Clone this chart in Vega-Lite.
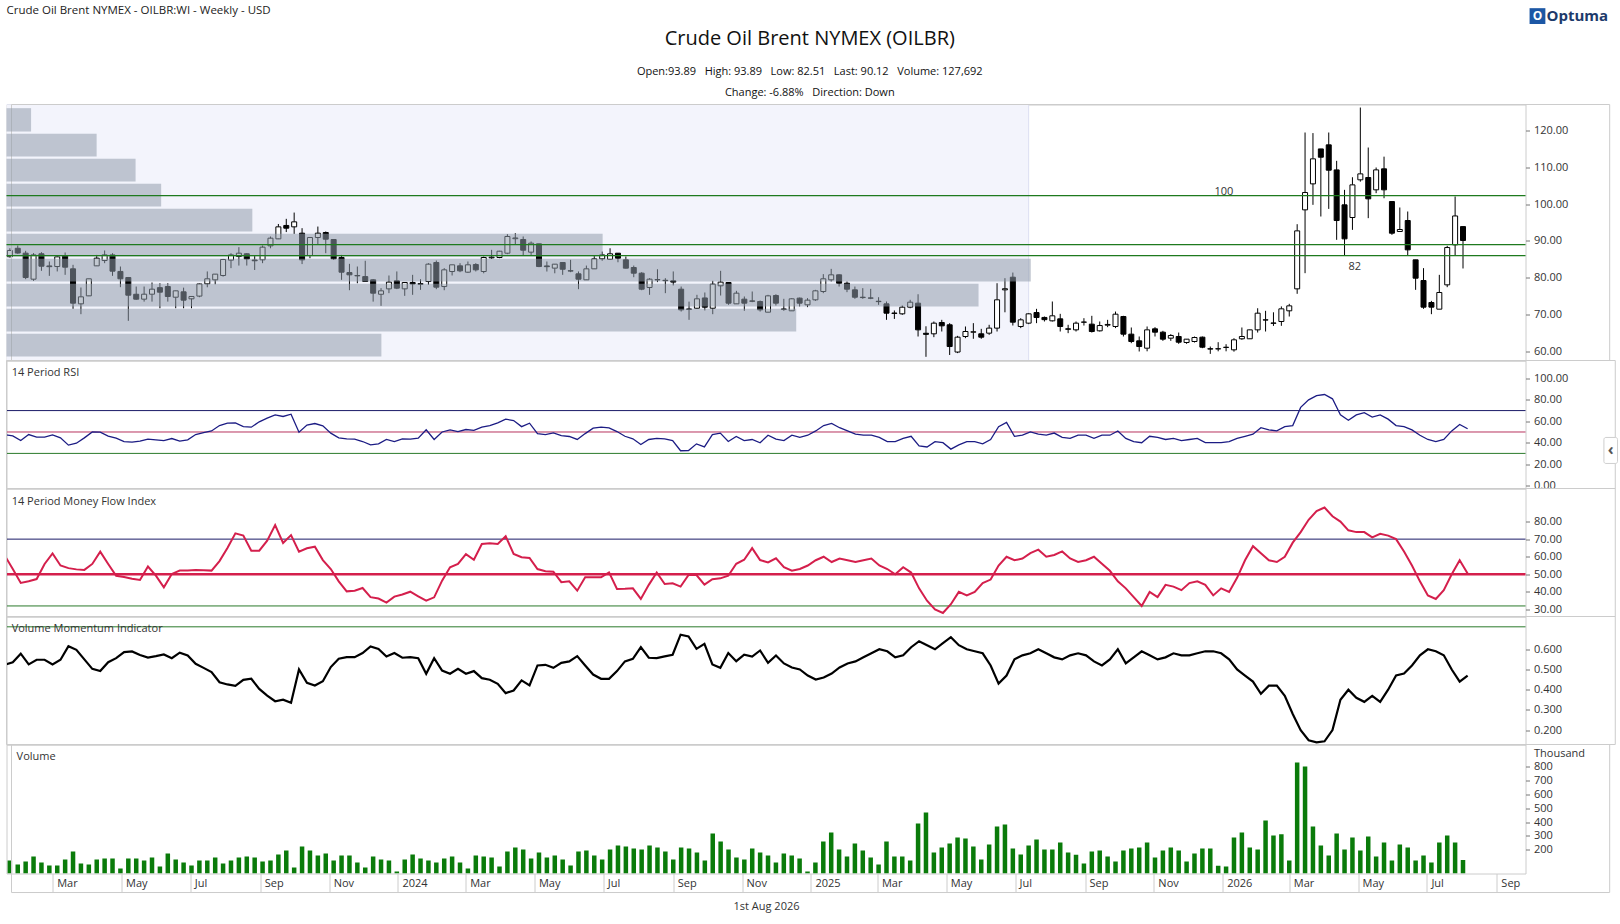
{
  "$schema": "https://vega.github.io/schema/vega-lite/v6.json",
  "background": "white",
  "padding": {"left": 4.5, "top": 3.5, "right": 0, "bottom": 2},
  "bounds": "flush",
  "config": {
    "font": "Open Sans",
    "view": {"stroke": "#cccccc", "strokeWidth": 1},
    "axis": {"grid": false, "domain": false, "labelFont": "Open Sans", "labelFontSize": 11, "labelColor": "#333333", "tickColor": "#777777", "titleFont": "Open Sans", "titleFontWeight": "normal", "titleColor": "#333333"},
    "text": {"font": "Open Sans", "fontSize": 11, "color": "#333333"}
  },
  "spacing": 0,
  "datasets": {
    "bars": [
      {"date":"2023-01-22","open":85.7,"high":88.0,"low":85.5,"close":87.4,"volume":123,"rsi":47.5,"mfi":60.6,"vmi":0.523},
      {"date":"2023-01-29","open":88.0,"high":88.75,"low":86.5,"close":86.7,"volume":94,"rsi":46.4,"mfi":53.0,"vmi":0.536},
      {"date":"2023-02-05","open":86.67,"high":87.3,"low":79.6,"close":80.05,"volume":116,"rsi":42.0,"mfi":45.1,"vmi":0.578},
      {"date":"2023-02-12","open":79.6,"high":86.7,"low":79.15,"close":86.2,"volume":152,"rsi":47.6,"mfi":46.0,"vmi":0.525},
      {"date":"2023-02-19","open":86.5,"high":86.94,"low":81.87,"close":83.13,"volume":109,"rsi":45.2,"mfi":47.3,"vmi":0.548},
      {"date":"2023-02-26","open":83.2,"high":84.4,"low":80.5,"close":83.0,"volume":87,"rsi":45.2,"mfi":55.9,"vmi":0.548},
      {"date":"2023-03-05","open":83.04,"high":86.0,"low":81.7,"close":85.67,"volume":87,"rsi":47.3,"mfi":61.9,"vmi":0.525},
      {"date":"2023-03-12","open":85.94,"high":86.85,"low":80.78,"close":82.86,"volume":130,"rsi":44.5,"mfi":55.0,"vmi":0.548},
      {"date":"2023-03-19","open":82.41,"high":83.5,"low":71.54,"close":73.08,"volume":188,"rsi":37.7,"mfi":53.5,"vmi":0.615},
      {"date":"2023-03-26","open":72.9,"high":77.34,"low":70.09,"close":74.8,"volume":102,"rsi":39.5,"mfi":52.8,"vmi":0.597},
      {"date":"2023-04-02","open":75.07,"high":79.7,"low":75.0,"close":79.7,"volume":94,"rsi":44.5,"mfi":52.5,"vmi":0.550},
      {"date":"2023-04-09","open":83.22,"high":86.2,"low":83.2,"close":85.31,"volume":130,"rsi":50.0,"mfi":55.9,"vmi":0.503},
      {"date":"2023-04-16","open":84.67,"high":87.4,"low":83.95,"close":86.2,"volume":138,"rsi":49.8,"mfi":62.9,"vmi":0.492},
      {"date":"2023-04-23","open":86.2,"high":86.66,"low":80.5,"close":81.78,"volume":138,"rsi":46.1,"mfi":55.9,"vmi":0.536},
      {"date":"2023-04-30","open":81.7,"high":83.04,"low":77.43,"close":79.7,"volume":66,"rsi":44.2,"mfi":49.2,"vmi":0.556},
      {"date":"2023-05-07","open":80.05,"high":80.2,"low":68.28,"close":75.25,"volume":138,"rsi":41.0,"mfi":48.5,"vmi":0.586},
      {"date":"2023-05-14","open":75.5,"high":77.6,"low":74.0,"close":74.17,"volume":138,"rsi":40.5,"mfi":47.5,"vmi":0.589},
      {"date":"2023-05-21","open":74.17,"high":77.6,"low":73.5,"close":75.52,"volume":123,"rsi":41.5,"mfi":46.8,"vmi":0.572},
      {"date":"2023-05-28","open":75.52,"high":78.7,"low":73.5,"close":76.88,"volume":145,"rsi":43.3,"mfi":54.4,"vmi":0.559},
      {"date":"2023-06-04","open":77.3,"high":78.5,"low":71.7,"close":76.07,"volume":80,"rsi":42.7,"mfi":49.2,"vmi":0.566},
      {"date":"2023-06-11","open":77.6,"high":78.5,"low":73.5,"close":74.9,"volume":174,"rsi":42.0,"mfi":42.6,"vmi":0.574},
      {"date":"2023-06-18","open":74.7,"high":76.5,"low":71.7,"close":76.43,"volume":130,"rsi":43.9,"mfi":50.2,"vmi":0.556},
      {"date":"2023-06-25","open":76.16,"high":77.3,"low":71.7,"close":73.9,"volume":109,"rsi":41.4,"mfi":52.1,"vmi":0.583},
      {"date":"2023-07-02","open":74.26,"high":75.0,"low":71.7,"close":74.9,"volume":87,"rsi":42.7,"mfi":52.1,"vmi":0.569},
      {"date":"2023-07-09","open":75.0,"high":78.4,"low":74.7,"close":78.3,"volume":123,"rsi":47.6,"mfi":52.5,"vmi":0.528},
      {"date":"2023-07-16","open":78.33,"high":81.7,"low":77.4,"close":79.7,"volume":123,"rsi":49.5,"mfi":52.3,"vmi":0.508},
      {"date":"2023-07-23","open":79.42,"high":81.0,"low":78.2,"close":80.97,"volume":145,"rsi":51.0,"mfi":52.1,"vmi":0.487},
      {"date":"2023-07-30","open":80.6,"high":85.1,"low":80.3,"close":84.95,"volume":102,"rsi":56.0,"mfi":57.5,"vmi":0.437},
      {"date":"2023-08-06","open":84.77,"high":86.66,"low":82.6,"close":86.2,"volume":123,"rsi":58.2,"mfi":65.0,"vmi":0.426},
      {"date":"2023-08-13","open":85.76,"high":88.3,"low":83.3,"close":86.66,"volume":145,"rsi":58.5,"mfi":73.3,"vmi":0.419},
      {"date":"2023-08-20","open":86.5,"high":86.66,"low":83.3,"close":85.1,"volume":152,"rsi":55.1,"mfi":72.0,"vmi":0.449},
      {"date":"2023-08-27","open":84.8,"high":86.0,"low":82.1,"close":84.6,"volume":145,"rsi":54.5,"mfi":63.4,"vmi":0.454},
      {"date":"2023-09-03","open":84.85,"high":88.75,"low":83.95,"close":88.3,"volume":116,"rsi":59.5,"mfi":63.4,"vmi":0.404},
      {"date":"2023-09-10","open":88.66,"high":91.2,"low":88.0,"close":90.74,"volume":123,"rsi":62.9,"mfi":69.1,"vmi":0.371},
      {"date":"2023-09-17","open":90.56,"high":94.6,"low":90.5,"close":93.82,"volume":166,"rsi":66.0,"mfi":78.0,"vmi":0.343},
      {"date":"2023-09-24","open":94.2,"high":96.0,"low":92.4,"close":93.46,"volume":195,"rsi":64.5,"mfi":67.8,"vmi":0.351},
      {"date":"2023-10-01","open":93.82,"high":97.7,"low":91.9,"close":95.18,"volume":73,"rsi":66.6,"mfi":72.3,"vmi":0.335},
      {"date":"2023-10-08","open":92.1,"high":93.46,"low":83.7,"close":84.85,"volume":224,"rsi":49.8,"mfi":62.9,"vmi":0.500},
      {"date":"2023-10-15","open":86.03,"high":90.95,"low":85.3,"close":90.92,"volume":195,"rsi":56.5,"mfi":64.8,"vmi":0.434},
      {"date":"2023-10-22","open":90.92,"high":93.9,"low":89.1,"close":92.1,"volume":159,"rsi":57.9,"mfi":65.7,"vmi":0.421},
      {"date":"2023-10-29","open":92.28,"high":92.56,"low":86.66,"close":90.47,"volume":174,"rsi":55.7,"mfi":58.1,"vmi":0.442},
      {"date":"2023-11-05","open":90.38,"high":90.4,"low":84.85,"close":85.13,"volume":123,"rsi":48.9,"mfi":53.0,"vmi":0.512},
      {"date":"2023-11-12","open":85.5,"high":86.2,"low":79.42,"close":81.5,"volume":159,"rsi":44.5,"mfi":46.0,"vmi":0.553},
      {"date":"2023-11-19","open":81.4,"high":83.77,"low":76.6,"close":80.78,"volume":159,"rsi":43.6,"mfi":40.3,"vmi":0.561},
      {"date":"2023-11-26","open":80.6,"high":83.04,"low":78.5,"close":80.5,"volume":109,"rsi":43.3,"mfi":40.7,"vmi":0.561},
      {"date":"2023-12-03","open":80.3,"high":84.6,"low":78.9,"close":78.97,"volume":73,"rsi":41.1,"mfi":42.2,"vmi":0.581},
      {"date":"2023-12-10","open":79.42,"high":79.6,"low":73.5,"close":75.8,"volume":152,"rsi":38.0,"mfi":37.0,"vmi":0.614},
      {"date":"2023-12-17","open":75.5,"high":77.16,"low":72.35,"close":76.43,"volume":130,"rsi":38.9,"mfi":36.2,"vmi":0.602},
      {"date":"2023-12-24","open":76.97,"high":80.6,"low":75.8,"close":78.8,"volume":123,"rsi":43.0,"mfi":33.9,"vmi":0.564},
      {"date":"2023-12-31","open":79.15,"high":81.7,"low":76.9,"close":77.16,"volume":44,"rsi":41.1,"mfi":37.3,"vmi":0.581},
      {"date":"2024-01-07","open":76.97,"high":78.8,"low":75.07,"close":78.7,"volume":130,"rsi":43.6,"mfi":38.5,"vmi":0.558},
      {"date":"2024-01-14","open":78.7,"high":80.78,"low":75.35,"close":78.3,"volume":166,"rsi":43.3,"mfi":40.1,"vmi":0.561},
      {"date":"2024-01-21","open":78.2,"high":79.6,"low":76.7,"close":78.4,"volume":138,"rsi":44.2,"mfi":37.5,"vmi":0.556},
      {"date":"2024-01-28","open":78.97,"high":83.95,"low":78.06,"close":83.68,"volume":123,"rsi":52.0,"mfi":35.0,"vmi":0.479},
      {"date":"2024-02-04","open":84.13,"high":84.67,"low":76.88,"close":77.43,"volume":109,"rsi":43.0,"mfi":36.9,"vmi":0.556},
      {"date":"2024-02-11","open":77.6,"high":82.6,"low":76.6,"close":82.14,"volume":138,"rsi":50.0,"mfi":46.4,"vmi":0.495},
      {"date":"2024-02-18","open":81.68,"high":83.5,"low":80.6,"close":83.5,"volume":152,"rsi":52.0,"mfi":54.0,"vmi":0.479},
      {"date":"2024-02-25","open":83.22,"high":83.95,"low":81.5,"close":81.87,"volume":109,"rsi":50.4,"mfi":55.9,"vmi":0.503},
      {"date":"2024-03-03","open":81.5,"high":84.4,"low":81.3,"close":83.5,"volume":66,"rsi":52.3,"mfi":61.5,"vmi":0.479},
      {"date":"2024-03-10","open":83.58,"high":83.95,"low":81.7,"close":82.14,"volume":159,"rsi":51.5,"mfi":58.3,"vmi":0.492},
      {"date":"2024-03-17","open":81.68,"high":85.76,"low":81.2,"close":85.49,"volume":152,"rsi":54.6,"mfi":67.2,"vmi":0.457},
      {"date":"2024-03-24","open":85.4,"high":87.57,"low":85.13,"close":85.6,"volume":145,"rsi":56.0,"mfi":67.6,"vmi":0.449},
      {"date":"2024-03-31","open":85.49,"high":87.3,"low":85.3,"close":87.2,"volume":80,"rsi":58.5,"mfi":67.2,"vmi":0.429},
      {"date":"2024-04-07","open":86.66,"high":91.83,"low":86.4,"close":91.2,"volume":188,"rsi":62.0,"mfi":71.6,"vmi":0.383},
      {"date":"2024-04-14","open":90.6,"high":92.1,"low":88.9,"close":90.8,"volume":217,"rsi":60.7,"mfi":61.6,"vmi":0.396},
      {"date":"2024-04-21","open":90.38,"high":91.2,"low":86.03,"close":87.48,"volume":202,"rsi":55.0,"mfi":59.7,"vmi":0.446},
      {"date":"2024-04-28","open":86.94,"high":89.84,"low":86.2,"close":89.38,"volume":138,"rsi":58.2,"mfi":59.3,"vmi":0.421},
      {"date":"2024-05-05","open":89.2,"high":89.2,"low":82.86,"close":83.04,"volume":181,"rsi":48.5,"mfi":53.0,"vmi":0.520},
      {"date":"2024-05-12","open":83.2,"high":84.4,"low":81.68,"close":83.0,"volume":145,"rsi":47.6,"mfi":51.7,"vmi":0.523},
      {"date":"2024-05-19","open":82.6,"high":83.7,"low":81.2,"close":83.68,"volume":159,"rsi":49.2,"mfi":51.5,"vmi":0.508},
      {"date":"2024-05-26","open":84.13,"high":84.2,"low":80.78,"close":82.3,"volume":130,"rsi":46.7,"mfi":45.5,"vmi":0.533},
      {"date":"2024-06-02","open":81.9,"high":84.85,"low":81.5,"close":81.8,"volume":87,"rsi":45.8,"mfi":46.0,"vmi":0.540},
      {"date":"2024-06-09","open":81.05,"high":81.7,"low":76.88,"close":79.6,"volume":188,"rsi":43.0,"mfi":40.7,"vmi":0.566},
      {"date":"2024-06-16","open":79.42,"high":83.3,"low":79.4,"close":82.41,"volume":195,"rsi":48.5,"mfi":48.3,"vmi":0.520},
      {"date":"2024-06-23","open":82.41,"high":86.03,"low":82.4,"close":85.13,"volume":159,"rsi":53.6,"mfi":48.3,"vmi":0.475},
      {"date":"2024-06-30","open":85.13,"high":87.1,"low":84.6,"close":86.2,"volume":130,"rsi":54.5,"mfi":48.3,"vmi":0.454},
      {"date":"2024-07-07","open":85.0,"high":88.0,"low":84.85,"close":86.5,"volume":202,"rsi":53.8,"mfi":51.1,"vmi":0.454},
      {"date":"2024-07-14","open":86.66,"high":86.7,"low":84.2,"close":85.3,"volume":231,"rsi":50.4,"mfi":41.7,"vmi":0.492},
      {"date":"2024-07-21","open":84.85,"high":85.76,"low":82.5,"close":82.6,"volume":224,"rsi":46.0,"mfi":41.8,"vmi":0.540},
      {"date":"2024-07-28","open":82.77,"high":83.3,"low":80.14,"close":81.23,"volume":210,"rsi":43.6,"mfi":42.0,"vmi":0.553},
      {"date":"2024-08-04","open":81.23,"high":81.5,"low":76.6,"close":76.88,"volume":202,"rsi":38.3,"mfi":36.0,"vmi":0.611},
      {"date":"2024-08-11","open":77.34,"high":79.87,"low":75.35,"close":79.6,"volume":231,"rsi":43.0,"mfi":44.0,"vmi":0.558},
      {"date":"2024-08-18","open":79.5,"high":82.3,"low":78.8,"close":79.4,"volume":217,"rsi":44.0,"mfi":51.0,"vmi":0.556},
      {"date":"2024-08-25","open":79.3,"high":79.87,"low":75.8,"close":79.2,"volume":188,"rsi":43.5,"mfi":44.5,"vmi":0.565},
      {"date":"2024-09-01","open":79.15,"high":81.7,"low":77.9,"close":78.8,"volume":130,"rsi":42.0,"mfi":44.9,"vmi":0.573},
      {"date":"2024-09-08","open":76.88,"high":77.6,"low":70.8,"close":71.27,"volume":217,"rsi":32.5,"mfi":43.0,"vmi":0.672},
      {"date":"2024-09-15","open":71.5,"high":73.5,"low":68.55,"close":71.4,"volume":210,"rsi":32.7,"mfi":49.6,"vmi":0.663},
      {"date":"2024-09-22","open":71.7,"high":75.35,"low":71.54,"close":74.26,"volume":181,"rsi":38.9,"mfi":49.6,"vmi":0.602},
      {"date":"2024-09-29","open":74.5,"high":75.98,"low":71.1,"close":71.99,"volume":123,"rsi":36.1,"mfi":44.1,"vmi":0.627},
      {"date":"2024-10-06","open":71.7,"high":79.15,"low":70.09,"close":78.25,"volume":318,"rsi":47.6,"mfi":47.2,"vmi":0.525},
      {"date":"2024-10-13","open":77.8,"high":81.87,"low":75.16,"close":78.8,"volume":260,"rsi":48.9,"mfi":47.7,"vmi":0.508},
      {"date":"2024-10-20","open":78.7,"high":78.8,"low":72.63,"close":73.08,"volume":202,"rsi":41.1,"mfi":49.2,"vmi":0.581},
      {"date":"2024-10-27","open":72.9,"high":76.43,"low":72.9,"close":75.8,"volume":145,"rsi":45.8,"mfi":56.0,"vmi":0.541},
      {"date":"2024-11-03","open":74.17,"high":74.9,"low":71.0,"close":73.08,"volume":130,"rsi":42.0,"mfi":58.3,"vmi":0.573},
      {"date":"2024-11-10","open":73.7,"high":76.25,"low":73.35,"close":73.6,"volume":210,"rsi":43.0,"mfi":64.9,"vmi":0.564},
      {"date":"2024-11-17","open":73.53,"high":73.8,"low":70.8,"close":71.27,"volume":181,"rsi":39.9,"mfi":58.1,"vmi":0.594},
      {"date":"2024-11-24","open":70.63,"high":75.35,"low":70.6,"close":75.07,"volume":159,"rsi":47.0,"mfi":56.8,"vmi":0.533},
      {"date":"2024-12-01","open":75.16,"high":75.5,"low":72.45,"close":73.08,"volume":109,"rsi":43.3,"mfi":59.1,"vmi":0.569},
      {"date":"2024-12-08","open":71.5,"high":74.26,"low":71.0,"close":71.4,"volume":174,"rsi":42,"mfi":54,"vmi":0.53},
      {"date":"2024-12-15","open":71.0,"high":74.45,"low":71.0,"close":74.26,"volume":159,"rsi":47,"mfi":52,"vmi":0.51},
      {"date":"2024-12-22","open":74.45,"high":74.6,"low":72.2,"close":73.08,"volume":138,"rsi":45,"mfi":53,"vmi":0.50},
      {"date":"2024-12-29","open":72.63,"high":74.45,"low":72.0,"close":73.9,"volume":44,"rsi":47,"mfi":55,"vmi":0.47},
      {"date":"2025-01-05","open":73.99,"high":76.7,"low":73.7,"close":76.43,"volume":109,"rsi":51,"mfi":58,"vmi":0.45},
      {"date":"2025-01-12","open":76.25,"high":80.97,"low":75.8,"close":79.7,"volume":260,"rsi":56,"mfi":60,"vmi":0.46},
      {"date":"2025-01-19","open":79.42,"high":82.4,"low":78.97,"close":80.78,"volume":325,"rsi":58,"mfi":57,"vmi":0.48},
      {"date":"2025-01-26","open":80.78,"high":80.9,"low":77.6,"close":78.5,"volume":202,"rsi":54,"mfi":59,"vmi":0.51},
      {"date":"2025-02-02","open":78.5,"high":78.97,"low":76.07,"close":76.88,"volume":152,"rsi":51,"mfi":58,"vmi":0.53},
      {"date":"2025-02-09","open":76.7,"high":77.6,"low":74.26,"close":74.7,"volume":246,"rsi":48,"mfi":57,"vmi":0.54},
      {"date":"2025-02-16","open":74.7,"high":77.16,"low":74.26,"close":74.6,"volume":195,"rsi":47,"mfi":58,"vmi":0.56},
      {"date":"2025-02-23","open":74.5,"high":76.97,"low":74.17,"close":74.45,"volume":145,"rsi":47,"mfi":59,"vmi":0.58},
      {"date":"2025-03-02","open":73.6,"high":74.7,"low":72.63,"close":73.5,"volume":94,"rsi":45,"mfi":55,"vmi":0.60},
      {"date":"2025-03-09","open":72.9,"high":73.53,"low":68.55,"close":70.36,"volume":260,"rsi":41,"mfi":53,"vmi":0.59},
      {"date":"2025-03-16","open":70.4,"high":71.1,"low":68.8,"close":70.3,"volume":152,"rsi":41,"mfi":50,"vmi":0.56},
      {"date":"2025-03-23","open":70.18,"high":72.45,"low":69.9,"close":71.99,"volume":152,"rsi":44,"mfi":54,"vmi":0.57},
      {"date":"2025-03-30","open":71.99,"high":73.99,"low":71.7,"close":73.35,"volume":123,"rsi":46,"mfi":51,"vmi":0.61},
      {"date":"2025-04-06","open":73.08,"high":75.5,"low":64.02,"close":65.83,"volume":390,"rsi":37,"mfi":42,"vmi":0.64},
      {"date":"2025-04-13","open":64.9,"high":66.8,"low":58.5,"close":64.6,"volume":469,"rsi":36,"mfi":35,"vmi":0.62},
      {"date":"2025-04-20","open":64.75,"high":68.1,"low":63.84,"close":67.65,"volume":181,"rsi":41,"mfi":30,"vmi":0.60},
      {"date":"2025-04-27","open":67.83,"high":68.55,"low":65.38,"close":66.92,"volume":217,"rsi":40,"mfi":28,"vmi":0.63},
      {"date":"2025-05-04","open":67.2,"high":67.65,"low":59.0,"close":61.3,"volume":246,"rsi":34,"mfi":33,"vmi":0.66},
      {"date":"2025-05-11","open":59.8,"high":64.2,"low":59.5,"close":63.84,"volume":289,"rsi":38,"mfi":40,"vmi":0.62},
      {"date":"2025-05-18","open":64.02,"high":66.74,"low":63.57,"close":65.38,"volume":282,"rsi":41,"mfi":38,"vmi":0.60},
      {"date":"2025-05-25","open":65.2,"high":67.65,"low":63.4,"close":65.3,"volume":224,"rsi":41,"mfi":40,"vmi":0.59},
      {"date":"2025-06-01","open":64.75,"high":66.1,"low":63.4,"close":63.84,"volume":130,"rsi":39,"mfi":45,"vmi":0.58},
      {"date":"2025-06-08","open":64.93,"high":67.2,"low":64.47,"close":66.3,"volume":238,"rsi":43,"mfi":47,"vmi":0.52},
      {"date":"2025-06-15","open":66.3,"high":78.5,"low":65.38,"close":73.99,"volume":368,"rsi":55,"mfi":55,"vmi":0.43},
      {"date":"2025-06-22","open":76.7,"high":79.87,"low":70.6,"close":77.0,"volume":383,"rsi":59,"mfi":60,"vmi":0.47},
      {"date":"2025-06-29","open":80.14,"high":81.4,"low":67.01,"close":67.92,"volume":210,"rsi":46,"mfi":58,"vmi":0.55},
      {"date":"2025-07-06","open":66.74,"high":69.0,"low":66.3,"close":68.55,"volume":166,"rsi":47,"mfi":59,"vmi":0.57},
      {"date":"2025-07-13","open":67.65,"high":70.36,"low":67.38,"close":70.18,"volume":231,"rsi":50,"mfi":62,"vmi":0.58},
      {"date":"2025-07-20","open":70.54,"high":71.54,"low":67.65,"close":69.18,"volume":274,"rsi":48,"mfi":64,"vmi":0.60},
      {"date":"2025-07-27","open":69.2,"high":69.45,"low":68.1,"close":68.6,"volume":202,"rsi":47,"mfi":60,"vmi":0.58},
      {"date":"2025-08-03","open":68.28,"high":73.53,"low":68.1,"close":69.64,"volume":202,"rsi":49,"mfi":61,"vmi":0.56},
      {"date":"2025-08-10","open":68.82,"high":70.18,"low":65.38,"close":66.74,"volume":253,"rsi":45,"mfi":63,"vmi":0.55},
      {"date":"2025-08-17","open":66.1,"high":67.2,"low":64.93,"close":66.0,"volume":181,"rsi":44,"mfi":59,"vmi":0.57},
      {"date":"2025-08-24","open":65.83,"high":68.1,"low":65.38,"close":67.65,"volume":164,"rsi":47,"mfi":57,"vmi":0.58},
      {"date":"2025-08-31","open":67.9,"high":69.0,"low":67.0,"close":67.95,"volume":102,"rsi":47,"mfi":58,"vmi":0.57},
      {"date":"2025-09-07","open":67.38,"high":69.64,"low":65.1,"close":65.38,"volume":188,"rsi":44,"mfi":60,"vmi":0.54},
      {"date":"2025-09-14","open":65.56,"high":68.1,"low":65.38,"close":67.0,"volume":195,"rsi":47,"mfi":56,"vmi":0.52},
      {"date":"2025-09-21","open":67.1,"high":68.55,"low":66.56,"close":67.3,"volume":152,"rsi":47,"mfi":52,"vmi":0.55},
      {"date":"2025-09-28","open":66.74,"high":70.8,"low":66.3,"close":70.09,"volume":116,"rsi":51,"mfi":46,"vmi":0.60},
      {"date":"2025-10-05","open":69.45,"high":69.64,"low":64.02,"close":64.66,"volume":195,"rsi":44,"mfi":42,"vmi":0.53},
      {"date":"2025-10-12","open":64.66,"high":66.47,"low":62.21,"close":62.66,"volume":210,"rsi":41,"mfi":37,"vmi":0.56},
      {"date":"2025-10-19","open":62.84,"high":64.02,"low":59.95,"close":61.3,"volume":217,"rsi":40,"mfi":32,"vmi":0.59},
      {"date":"2025-10-26","open":60.85,"high":66.74,"low":60.0,"close":65.83,"volume":253,"rsi":46,"mfi":40,"vmi":0.57},
      {"date":"2025-11-02","open":66.1,"high":66.56,"low":64.02,"close":65.2,"volume":145,"rsi":45,"mfi":37,"vmi":0.55},
      {"date":"2025-11-09","open":65.2,"high":65.56,"low":62.84,"close":63.3,"volume":195,"rsi":43,"mfi":44,"vmi":0.56},
      {"date":"2025-11-16","open":63.57,"high":64.66,"low":62.84,"close":64.3,"volume":217,"rsi":44,"mfi":43,"vmi":0.58},
      {"date":"2025-11-23","open":64.02,"high":65.1,"low":62.03,"close":62.48,"volume":195,"rsi":42,"mfi":41,"vmi":0.57},
      {"date":"2025-11-30","open":62.39,"high":63.3,"low":62.03,"close":63.3,"volume":116,"rsi":43,"mfi":45,"vmi":0.57},
      {"date":"2025-12-07","open":62.66,"high":64.02,"low":62.39,"close":63.75,"volume":174,"rsi":44,"mfi":46,"vmi":0.58},
      {"date":"2025-12-14","open":63.84,"high":64.02,"low":60.85,"close":61.12,"volume":210,"rsi":40,"mfi":44,"vmi":0.59},
      {"date":"2025-12-21","open":60.7,"high":61.3,"low":59.3,"close":60.6,"volume":210,"rsi":40,"mfi":38,"vmi":0.59},
      {"date":"2025-12-28","open":60.65,"high":62.48,"low":60.0,"close":60.7,"volume":85,"rsi":40,"mfi":42,"vmi":0.58},
      {"date":"2026-01-04","open":61.1,"high":61.93,"low":60.0,"close":61.05,"volume":80,"rsi":41,"mfi":40,"vmi":0.55},
      {"date":"2026-01-11","open":60.4,"high":63.57,"low":59.9,"close":63.12,"volume":289,"rsi":44,"mfi":48,"vmi":0.50},
      {"date":"2026-01-18","open":63.4,"high":66.47,"low":63.12,"close":64.02,"volume":325,"rsi":46,"mfi":58,"vmi":0.47},
      {"date":"2026-01-25","open":63.4,"high":65.9,"low":63.4,"close":65.83,"volume":217,"rsi":48,"mfi":66,"vmi":0.44},
      {"date":"2026-02-01","open":65.83,"high":71.7,"low":65.1,"close":70.36,"volume":202,"rsi":54,"mfi":62,"vmi":0.38},
      {"date":"2026-02-08","open":68.5,"high":71.0,"low":65.38,"close":68.55,"volume":411,"rsi":52,"mfi":58,"vmi":0.42},
      {"date":"2026-02-15","open":67.6,"high":70.6,"low":66.9,"close":67.7,"volume":303,"rsi":51,"mfi":57,"vmi":0.42},
      {"date":"2026-02-22","open":68.1,"high":72.2,"low":66.92,"close":71.54,"volume":313,"rsi":55,"mfi":60,"vmi":0.37},
      {"date":"2026-03-01","open":71.0,"high":72.9,"low":69.45,"close":72.35,"volume":123,"rsi":56,"mfi":68,"vmi":0.28},
      {"date":"2026-03-08","open":76.97,"high":94.54,"low":75.62,"close":92.73,"volume":829,"rsi":73,"mfi":74,"vmi":0.20},
      {"date":"2026-03-15","open":98.44,"high":119.46,"low":81.23,"close":103.15,"volume":800,"rsi":80,"mfi":81,"vmi":0.15},
      {"date":"2026-03-22","open":105.5,"high":119.3,"low":99.8,"close":112.3,"volume":368,"rsi":84,"mfi":86,"vmi":0.14},
      {"date":"2026-03-29","open":115.0,"high":115.0,"low":96.63,"close":112.75,"volume":231,"rsi":85,"mfi":88,"vmi":0.145},
      {"date":"2026-04-05","open":116.1,"high":119.46,"low":98.7,"close":109.22,"volume":159,"rsi":81,"mfi":83,"vmi":0.20},
      {"date":"2026-04-12","open":109.3,"high":111.76,"low":90.29,"close":95.54,"volume":318,"rsi":66,"mfi":80,"vmi":0.35},
      {"date":"2026-04-19","open":99.8,"high":103.88,"low":86.03,"close":90.56,"volume":202,"rsi":61,"mfi":75,"vmi":0.40},
      {"date":"2026-04-26","open":96.36,"high":107.3,"low":93.0,"close":105.23,"volume":289,"rsi":66,"mfi":74,"vmi":0.36},
      {"date":"2026-05-03","open":106.6,"high":126.25,"low":106.1,"close":108.22,"volume":195,"rsi":68,"mfi":74,"vmi":0.34},
      {"date":"2026-05-10","open":107.23,"high":115.38,"low":96.18,"close":101.43,"volume":296,"rsi":64,"mfi":71,"vmi":0.37},
      {"date":"2026-05-17","open":103.88,"high":109.95,"low":102.97,"close":109.3,"volume":152,"rsi":66,"mfi":73,"vmi":0.34},
      {"date":"2026-05-24","open":109.58,"high":112.9,"low":101.6,"close":103.88,"volume":253,"rsi":62,"mfi":72,"vmi":0.40},
      {"date":"2026-05-31","open":100.7,"high":100.7,"low":91.65,"close":92.1,"volume":123,"rsi":56,"mfi":70,"vmi":0.47},
      {"date":"2026-06-07","open":92.56,"high":99.08,"low":92.56,"close":93.1,"volume":238,"rsi":55,"mfi":63,"vmi":0.48},
      {"date":"2026-06-14","open":95.54,"high":97.99,"low":86.03,"close":87.57,"volume":217,"rsi":52,"mfi":55,"vmi":0.52},
      {"date":"2026-06-21","open":84.85,"high":84.85,"low":76.7,"close":79.87,"volume":123,"rsi":47,"mfi":46,"vmi":0.57},
      {"date":"2026-06-28","open":79.24,"high":82.6,"low":71.54,"close":72.0,"volume":159,"rsi":43,"mfi":38,"vmi":0.60},
      {"date":"2026-07-05","open":73.26,"high":73.7,"low":70.09,"close":72.0,"volume":109,"rsi":41,"mfi":36,"vmi":0.59},
      {"date":"2026-07-12","open":71.45,"high":80.78,"low":71.45,"close":75.98,"volume":253,"rsi":43,"mfi":41,"vmi":0.57},
      {"date":"2026-07-19","open":78.06,"high":88.66,"low":77.43,"close":88.2,"volume":303,"rsi":51,"mfi":50,"vmi":0.50},
      {"date":"2026-07-26","open":88.93,"high":102.07,"low":86.03,"close":96.78,"volume":253,"rsi":57,"mfi":58,"vmi":0.44},
      {"date":"2026-08-02","open":93.89,"high":93.89,"low":82.51,"close":90.12,"volume":127.692,"rsi":53,"mfi":50.5,"vmi":0.47}
    ],
    "profile": [
      {"low": 119.73, "high": 126.07, "volume": 2.4},
      {"low": 112.93, "high": 119.09, "volume": 8.8},
      {"low": 106.14, "high": 112.3, "volume": 12.6},
      {"low": 99.35, "high": 105.5, "volume": 15.1},
      {"low": 92.55, "high": 98.71, "volume": 24.0},
      {"low": 85.76, "high": 91.92, "volume": 58.2},
      {"low": 78.97, "high": 85.13, "volume": 100},
      {"low": 72.17, "high": 78.33, "volume": 94.9},
      {"low": 65.38, "high": 71.54, "volume": 77.1},
      {"low": 58.59, "high": 64.75, "volume": 36.6}
    ],
    "frame": [
      {"start": "2023-01-23T11:00:00Z", "end": "2026-12-10T00:00:00Z"}
    ]
  },
  "vconcat": [
    {
      "width": 1519,
      "height": 256,
      "layer": [
        {
          "layer": [
            {
              "data": {"values": [{"start": "2023-01-01", "end": "2025-07-13"}]},
              "mark": {"type": "rect", "color": "#f3f4fc", "stroke": "#dcdff2", "strokeWidth": 1, "clip": true},
              "encoding": {
                "x": {"field": "start", "type": "temporal", "axis": null, "scale": {"type": "utc", "domain": [{"year": 2023, "month": 1, "date": 23, "hours": 11, "utc": true}, {"year": 2026, "month": 9, "date": 21, "hours": 23, "utc": true}]}},
                "x2": {"field": "end"}
              }
            },
            {
              "data": {"name": "bars"},
              "mark": {"type": "rule", "color": "#000000", "strokeWidth": 1, "clip": true},
              "encoding": {
                "x": {"field": "date", "type": "temporal", "axis": null, "scale": {"type": "utc", "domain": [{"year": 2023, "month": 1, "date": 23, "hours": 11, "utc": true}, {"year": 2026, "month": 9, "date": 21, "hours": 23, "utc": true}]}},
                "y": {"field": "low", "type": "quantitative", "scale": {"domain": [57.5, 127.07], "zero": false, "nice": false},
                      "axis": {"orient": "right", "values": [60, 70, 80, 90, 100, 110, 120], "tickCount": 20, "format": ".2f", "tickSize": 4, "labelPadding": 4, "labelOverlap": false, "title": null}},
                "y2": {"field": "high"}
              }
            },
            {
              "data": {"name": "bars"},
              "mark": {"type": "bar", "size": 5, "stroke": "#000000", "strokeWidth": 1, "clip": true},
              "encoding": {
                "x": {"field": "date", "type": "temporal", "axis": null, "scale": {"type": "utc", "domain": [{"year": 2023, "month": 1, "date": 23, "hours": 11, "utc": true}, {"year": 2026, "month": 9, "date": 21, "hours": 23, "utc": true}]}},
                "y": {"field": "open", "type": "quantitative", "title": null, "scale": {"domain": [57.5, 127.07], "zero": false, "nice": false}},
                "y2": {"field": "close"},
                "fill": {"condition": {"test": "datum.close < datum.open", "value": "#000000"}, "value": "#ffffff"}
              }
            },
            {
              "data": {"values": [{"date": "2026-01-02", "price": 103.4, "label": "100"}, {"date": "2026-04-28", "price": 83.0, "label": "82"}]},
              "mark": {"type": "text", "fontSize": 11, "color": "#333333"},
              "encoding": {
                "x": {"field": "date", "type": "temporal", "axis": null, "scale": {"type": "utc", "domain": [{"year": 2023, "month": 1, "date": 23, "hours": 11, "utc": true}, {"year": 2026, "month": 9, "date": 21, "hours": 23, "utc": true}]}},
                "y": {"field": "price", "type": "quantitative", "title": null, "scale": {"domain": [57.5, 127.07], "zero": false, "nice": false}},
                "text": {"field": "label"}
              }
            },
            {
              "data": {"values": [{"date": "2023-01-19T00:00:00Z", "price": 152.5, "label": "Crude Oil Brent NYMEX - OILBR:WI - Weekly - USD"}]},
              "mark": {"type": "text", "fontSize": 11.5, "color": "#222222", "align": "left", "baseline": "middle"},
              "encoding": {
                "x": {"field": "date", "type": "temporal", "axis": null, "scale": {"type": "utc", "domain": [{"year": 2023, "month": 1, "date": 23, "hours": 11, "utc": true}, {"year": 2026, "month": 9, "date": 21, "hours": 23, "utc": true}]}},
                "y": {"field": "price", "type": "quantitative", "title": null, "scale": {"domain": [57.5, 127.07], "zero": false, "nice": false}},
                "text": {"field": "label"}
              }
            },
            {
              "data": {"values": [{"date": "2024-12-31", "price": 145.0, "label": "Crude Oil Brent NYMEX (OILBR)"}]},
              "mark": {"type": "text", "fontSize": 20, "color": "#111111", "align": "center", "baseline": "middle"},
              "encoding": {
                "x": {"field": "date", "type": "temporal", "axis": null, "scale": {"type": "utc", "domain": [{"year": 2023, "month": 1, "date": 23, "hours": 11, "utc": true}, {"year": 2026, "month": 9, "date": 21, "hours": 23, "utc": true}]}},
                "y": {"field": "price", "type": "quantitative", "title": null, "scale": {"domain": [57.5, 127.07], "zero": false, "nice": false}},
                "text": {"field": "label"}
              }
            },
            {
              "data": {"values": [
                {"date": "2024-12-31", "price": 135.8, "label": "Open:93.89\u00a0\u00a0 High: 93.89\u00a0\u00a0 Low: 82.51\u00a0\u00a0 Last: 90.12\u00a0\u00a0 Volume: 127,692"},
                {"date": "2024-12-31", "price": 130.3, "label": "Change: -6.88%\u00a0\u00a0 Direction: Down"}
              ]},
              "mark": {"type": "text", "fontSize": 11, "color": "#111111", "align": "center", "baseline": "middle"},
              "encoding": {
                "x": {"field": "date", "type": "temporal", "axis": null, "scale": {"type": "utc", "domain": [{"year": 2023, "month": 1, "date": 23, "hours": 11, "utc": true}, {"year": 2026, "month": 9, "date": 21, "hours": 23, "utc": true}]}},
                "y": {"field": "price", "type": "quantitative", "title": null, "scale": {"domain": [57.5, 127.07], "zero": false, "nice": false}},
                "text": {"field": "label"}
              }
            },
            {
              "data": {"values": [{"date": "2026-10-07", "price": 151.1}]},
              "mark": {"type": "square", "size": 250, "color": "#1c57a5", "opacity": 1, "cornerRadius": 3},
              "encoding": {
                "x": {"field": "date", "type": "temporal", "axis": null, "scale": {"type": "utc", "domain": [{"year": 2023, "month": 1, "date": 23, "hours": 11, "utc": true}, {"year": 2026, "month": 9, "date": 21, "hours": 23, "utc": true}]}},
                "y": {"field": "price", "type": "quantitative", "title": null, "scale": {"domain": [57.5, 127.07], "zero": false, "nice": false}}
              }
            },
            {
              "data": {"values": [{"date": "2026-10-07", "price": 151.1, "label": "O"}]},
              "mark": {"type": "text", "fontSize": 12, "fontWeight": "bold", "color": "#ffffff", "align": "center", "baseline": "middle"},
              "encoding": {
                "x": {"field": "date", "type": "temporal", "axis": null, "scale": {"type": "utc", "domain": [{"year": 2023, "month": 1, "date": 23, "hours": 11, "utc": true}, {"year": 2026, "month": 9, "date": 21, "hours": 23, "utc": true}]}},
                "y": {"field": "price", "type": "quantitative", "title": null, "scale": {"domain": [57.5, 127.07], "zero": false, "nice": false}},
                "text": {"field": "label"}
              }
            },
            {
              "data": {"values": [{"date": "2026-10-15", "price": 151.1, "label": "Optuma"}]},
              "mark": {"type": "text", "fontSize": 15, "fontWeight": "bold", "color": "#1d3a6b", "align": "left", "baseline": "middle"},
              "encoding": {
                "x": {"field": "date", "type": "temporal", "axis": null, "scale": {"type": "utc", "domain": [{"year": 2023, "month": 1, "date": 23, "hours": 11, "utc": true}, {"year": 2026, "month": 9, "date": 21, "hours": 23, "utc": true}]}},
                "y": {"field": "price", "type": "quantitative", "title": null, "scale": {"domain": [57.5, 127.07], "zero": false, "nice": false}},
                "text": {"field": "label"}
              }
            },
            {
              "data": {"name": "frame"},
              "mark": {"type": "rect", "fill": "#ffffff", "fillOpacity": 0, "stroke": "#cccccc", "strokeWidth": 1},
              "encoding": {
                "x": {"field": "start", "type": "temporal", "axis": null, "scale": {"type": "utc", "domain": [{"year": 2023, "month": 1, "date": 23, "hours": 11, "utc": true}, {"year": 2026, "month": 9, "date": 21, "hours": 23, "utc": true}]}},
                "x2": {"field": "end"}
              }
            }
          ]
        },
        {
          "data": {"name": "profile"},
          "mark": {"type": "rect", "color": "#909caa", "opacity": 0.54},
          "encoding": {
            "x": {"field": "volume", "type": "quantitative", "axis": null, "scale": {"domain": [0, 148.3], "nice": false}},
            "x2": {"datum": 0},
            "y": {"field": "low", "type": "quantitative", "title": null, "scale": {"domain": [57.5, 127.07], "zero": false, "nice": false}},
            "y2": {"field": "high"}
          }
        },
        {
          "data": {"values": [{"level": 102.3}, {"level": 89.0}, {"level": 86.0}]},
          "mark": {"type": "rule", "color": "#1e7a1e", "strokeWidth": 1.3},
          "encoding": {
            "y": {"field": "level", "type": "quantitative", "title": null, "scale": {"domain": [57.5, 127.07], "zero": false, "nice": false}}
          }
        }
      ],
      "resolve": {"scale": {"x": "independent"}}
    },
    {
      "width": 1519,
      "height": 128,
      "layer": [
        {
          "data": {"values": [{"level": 70}]},
          "mark": {"type": "rule", "color": "#1a1a66", "strokeWidth": 1},
          "encoding": {"y": {"field": "level", "type": "quantitative", "scale": {"domain": [-2.8, 116.8], "zero": false, "nice": false},
            "axis": {"orient": "right", "values": [0, 20, 40, 60, 80, 100], "tickCount": 20, "format": ".2f", "tickSize": 4, "labelPadding": 4, "labelOverlap": false, "title": null}}}
        },
        {
          "data": {"values": [{"level": 50}]},
          "mark": {"type": "rule", "color": "#b8335e", "strokeWidth": 1},
          "encoding": {"y": {"field": "level", "type": "quantitative", "title": null, "scale": {"domain": [-2.8, 116.8], "zero": false, "nice": false}}}
        },
        {
          "data": {"values": [{"level": 30}]},
          "mark": {"type": "rule", "color": "#2b7a2b", "strokeWidth": 1},
          "encoding": {"y": {"field": "level", "type": "quantitative", "title": null, "scale": {"domain": [-2.8, 116.8], "zero": false, "nice": false}}}
        },
        {
          "data": {"name": "bars"},
          "mark": {"type": "line", "color": "#1c1c84", "strokeWidth": 1.3, "clip": true},
          "encoding": {
            "x": {"field": "date", "type": "temporal", "axis": null, "scale": {"type": "utc", "domain": [{"year": 2023, "month": 1, "date": 23, "hours": 11, "utc": true}, {"year": 2026, "month": 9, "date": 21, "hours": 23, "utc": true}]}},
            "y": {"field": "rsi", "type": "quantitative", "title": null, "scale": {"domain": [-2.8, 116.8], "zero": false, "nice": false}}
          }
        },
        {
          "data": {"values": [{"date": "2023-01-28", "value": 104.7, "label": "14 Period RSI"}]},
          "mark": {"type": "text", "align": "left", "baseline": "middle"},
          "encoding": {
            "x": {"field": "date", "type": "temporal", "axis": null, "scale": {"type": "utc", "domain": [{"year": 2023, "month": 1, "date": 23, "hours": 11, "utc": true}, {"year": 2026, "month": 9, "date": 21, "hours": 23, "utc": true}]}},
            "y": {"field": "value", "type": "quantitative", "title": null, "scale": {"domain": [-2.8, 116.8], "zero": false, "nice": false}},
            "text": {"field": "label"}
          }
        },
        {
          "data": {"name": "frame"},
          "mark": {"type": "rect", "fill": "#ffffff", "fillOpacity": 0, "stroke": "#cccccc", "strokeWidth": 1},
          "encoding": {
            "x": {"field": "start", "type": "temporal", "axis": null, "scale": {"type": "utc", "domain": [{"year": 2023, "month": 1, "date": 23, "hours": 11, "utc": true}, {"year": 2026, "month": 9, "date": 21, "hours": 23, "utc": true}]}},
            "x2": {"field": "end"}
          }
        },
        {
          "data": {"values": [{"start": "2026-11-30", "end": "2026-12-12", "top": 44.9, "bottom": 20.6}]},
          "mark": {"type": "rect", "fill": "#ffffff", "stroke": "#cfcfcf", "strokeWidth": 1, "cornerRadius": 2},
          "encoding": {
            "x": {"field": "start", "type": "temporal", "axis": null, "scale": {"type": "utc", "domain": [{"year": 2023, "month": 1, "date": 23, "hours": 11, "utc": true}, {"year": 2026, "month": 9, "date": 21, "hours": 23, "utc": true}]}},
            "x2": {"field": "end"},
            "y": {"field": "top", "type": "quantitative", "title": null, "scale": {"domain": [-2.8, 116.8], "zero": false, "nice": false}},
            "y2": {"field": "bottom"}
          }
        },
        {
          "data": {"values": [{"date": "2026-12-06", "value": 33.5, "label": "‹"}]},
          "mark": {"type": "text", "align": "center", "baseline": "middle", "fontSize": 16, "fontWeight": "bold", "color": "#555555"},
          "encoding": {
            "x": {"field": "date", "type": "temporal", "axis": null, "scale": {"type": "utc", "domain": [{"year": 2023, "month": 1, "date": 23, "hours": 11, "utc": true}, {"year": 2026, "month": 9, "date": 21, "hours": 23, "utc": true}]}},
            "y": {"field": "value", "type": "quantitative", "title": null, "scale": {"domain": [-2.8, 116.8], "zero": false, "nice": false}},
            "text": {"field": "label"}
          }
        }
      ]
    },
    {
      "width": 1519,
      "height": 128,
      "layer": [
        {
          "data": {"values": [{"level": 70}]},
          "mark": {"type": "rule", "color": "#1a1a66", "strokeWidth": 1},
          "encoding": {"y": {"field": "level", "type": "quantitative", "scale": {"domain": [26, 98.8], "zero": false, "nice": false},
            "axis": {"orient": "right", "values": [30, 40, 50, 60, 70, 80], "tickCount": 20, "format": ".2f", "tickSize": 4, "labelPadding": 4, "labelOverlap": false, "title": null}}}
        },
        {
          "data": {"values": [{"level": 50}]},
          "mark": {"type": "rule", "color": "#d41f4c", "strokeWidth": 2.5},
          "encoding": {"y": {"field": "level", "type": "quantitative", "title": null, "scale": {"domain": [26, 98.8], "zero": false, "nice": false}}}
        },
        {
          "data": {"values": [{"level": 32}]},
          "mark": {"type": "rule", "color": "#2b7a2b", "strokeWidth": 1},
          "encoding": {"y": {"field": "level", "type": "quantitative", "title": null, "scale": {"domain": [26, 98.8], "zero": false, "nice": false}}}
        },
        {
          "data": {"name": "bars"},
          "mark": {"type": "line", "color": "#d41f4c", "strokeWidth": 2, "clip": true},
          "encoding": {
            "x": {"field": "date", "type": "temporal", "axis": null, "scale": {"type": "utc", "domain": [{"year": 2023, "month": 1, "date": 23, "hours": 11, "utc": true}, {"year": 2026, "month": 9, "date": 21, "hours": 23, "utc": true}]}},
            "y": {"field": "mfi", "type": "quantitative", "title": null, "scale": {"domain": [26, 98.8], "zero": false, "nice": false}}
          }
        },
        {
          "data": {"values": [{"date": "2023-01-28", "value": 91.3, "label": "14 Period Money Flow Index"}]},
          "mark": {"type": "text", "align": "left", "baseline": "middle"},
          "encoding": {
            "x": {"field": "date", "type": "temporal", "axis": null, "scale": {"type": "utc", "domain": [{"year": 2023, "month": 1, "date": 23, "hours": 11, "utc": true}, {"year": 2026, "month": 9, "date": 21, "hours": 23, "utc": true}]}},
            "y": {"field": "value", "type": "quantitative", "title": null, "scale": {"domain": [26, 98.8], "zero": false, "nice": false}},
            "text": {"field": "label"}
          }
        },
        {
          "data": {"name": "frame"},
          "mark": {"type": "rect", "fill": "#ffffff", "fillOpacity": 0, "stroke": "#cccccc", "strokeWidth": 1},
          "encoding": {
            "x": {"field": "start", "type": "temporal", "axis": null, "scale": {"type": "utc", "domain": [{"year": 2023, "month": 1, "date": 23, "hours": 11, "utc": true}, {"year": 2026, "month": 9, "date": 21, "hours": 23, "utc": true}]}},
            "x2": {"field": "end"}
          }
        }
      ]
    },
    {
      "width": 1519,
      "height": 128,
      "layer": [
        {
          "data": {"values": [{"level": 0.711}]},
          "mark": {"type": "rule", "color": "#2b7a2b", "strokeWidth": 1},
          "encoding": {"y": {"field": "level", "type": "quantitative", "scale": {"domain": [0.129, 0.762], "zero": false, "nice": false},
            "axis": {"orient": "right", "values": [0.2, 0.3, 0.4, 0.5, 0.6], "tickCount": 20, "format": ".3f", "tickSize": 4, "labelPadding": 4, "labelOverlap": false, "title": null}}}
        },
        {
          "data": {"name": "bars"},
          "mark": {"type": "line", "color": "#000000", "strokeWidth": 2.2, "clip": true},
          "encoding": {
            "x": {"field": "date", "type": "temporal", "axis": null, "scale": {"type": "utc", "domain": [{"year": 2023, "month": 1, "date": 23, "hours": 11, "utc": true}, {"year": 2026, "month": 9, "date": 21, "hours": 23, "utc": true}]}},
            "y": {"field": "vmi", "type": "quantitative", "title": null, "scale": {"domain": [0.129, 0.762], "zero": false, "nice": false}}
          }
        },
        {
          "data": {"values": [{"date": "2023-01-28", "value": 0.698, "label": "Volume Momentum Indicator"}]},
          "mark": {"type": "text", "align": "left", "baseline": "middle"},
          "encoding": {
            "x": {"field": "date", "type": "temporal", "axis": null, "scale": {"type": "utc", "domain": [{"year": 2023, "month": 1, "date": 23, "hours": 11, "utc": true}, {"year": 2026, "month": 9, "date": 21, "hours": 23, "utc": true}]}},
            "y": {"field": "value", "type": "quantitative", "title": null, "scale": {"domain": [0.129, 0.762], "zero": false, "nice": false}},
            "text": {"field": "label"}
          }
        },
        {
          "data": {"name": "frame"},
          "mark": {"type": "rect", "fill": "#ffffff", "fillOpacity": 0, "stroke": "#cccccc", "strokeWidth": 1},
          "encoding": {
            "x": {"field": "start", "type": "temporal", "axis": null, "scale": {"type": "utc", "domain": [{"year": 2023, "month": 1, "date": 23, "hours": 11, "utc": true}, {"year": 2026, "month": 9, "date": 21, "hours": 23, "utc": true}]}},
            "x2": {"field": "end"}
          }
        }
      ]
    },
    {
      "width": 1519,
      "height": 129,
      "layer": [
        {
          "data": {"name": "bars"},
          "mark": {"type": "bar", "size": 4.5, "color": "#0a7b0a", "clip": true},
          "encoding": {
            "x": {
              "field": "date", "type": "temporal",
              "scale": {"type": "utc", "domain": [{"year": 2023, "month": 1, "date": 23, "hours": 11, "utc": true}, {"year": 2026, "month": 9, "date": 21, "hours": 23, "utc": true}]},
              "axis": {"orient": "bottom", "tickCount": {"interval": "month", "step": 2}, "tickSize": 19, "tickColor": "#cccccc",
                       "labelExpr": "utcFormat(datum.value, '%m') == '01' ? utcFormat(datum.value, '%Y') : utcFormat(datum.value, '%b')",
                       "labelAlign": "left", "labelBaseline": "middle", "labelPadding": -9, "labelOffset": 4, "labelFlush": false, "labelOverlap": false,
                       "labelFontSize": 11, "title": "1st Aug 2026", "titleFontSize": 11, "titlePadding": 7}
            },
            "y": {
              "field": "volume", "type": "quantitative",
              "scale": {"domain": [30, 958], "zero": false, "nice": false},
              "axis": {"orient": "right", "values": [200, 300, 400, 500, 600, 700, 800], "tickCount": 20, "format": "d", "tickSize": 4, "labelPadding": 4, "labelOverlap": false,
                       "title": "Thousand", "titleAngle": 0, "titleAlign": "left", "titleBaseline": "middle", "titleX": 8, "titleY": 9, "titleFontSize": 11}
            },
            "y2": {"datum": 30}
          }
        },
        {
          "data": {"values": [{"date": "2023-01-28", "value": 865, "label": "Volume"}]},
          "mark": {"type": "text", "align": "left", "baseline": "middle"},
          "encoding": {
            "x": {"field": "date", "type": "temporal"},
            "y": {"field": "value", "type": "quantitative"},
            "text": {"field": "label"}
          }
        },
        {
          "data": {"name": "frame"},
          "mark": {"type": "rect", "fill": "#ffffff", "fillOpacity": 0, "stroke": "#cccccc", "strokeWidth": 1},
          "encoding": {
            "x": {"field": "start", "type": "temporal"},
            "x2": {"field": "end"},
            "y": {"datum": 958, "type": "quantitative"},
            "y2": {"datum": -106.8}
          }
        }
      ]
    }
  ],
  "resolve": {"scale": {"x": "independent", "y": "independent"}}
}
